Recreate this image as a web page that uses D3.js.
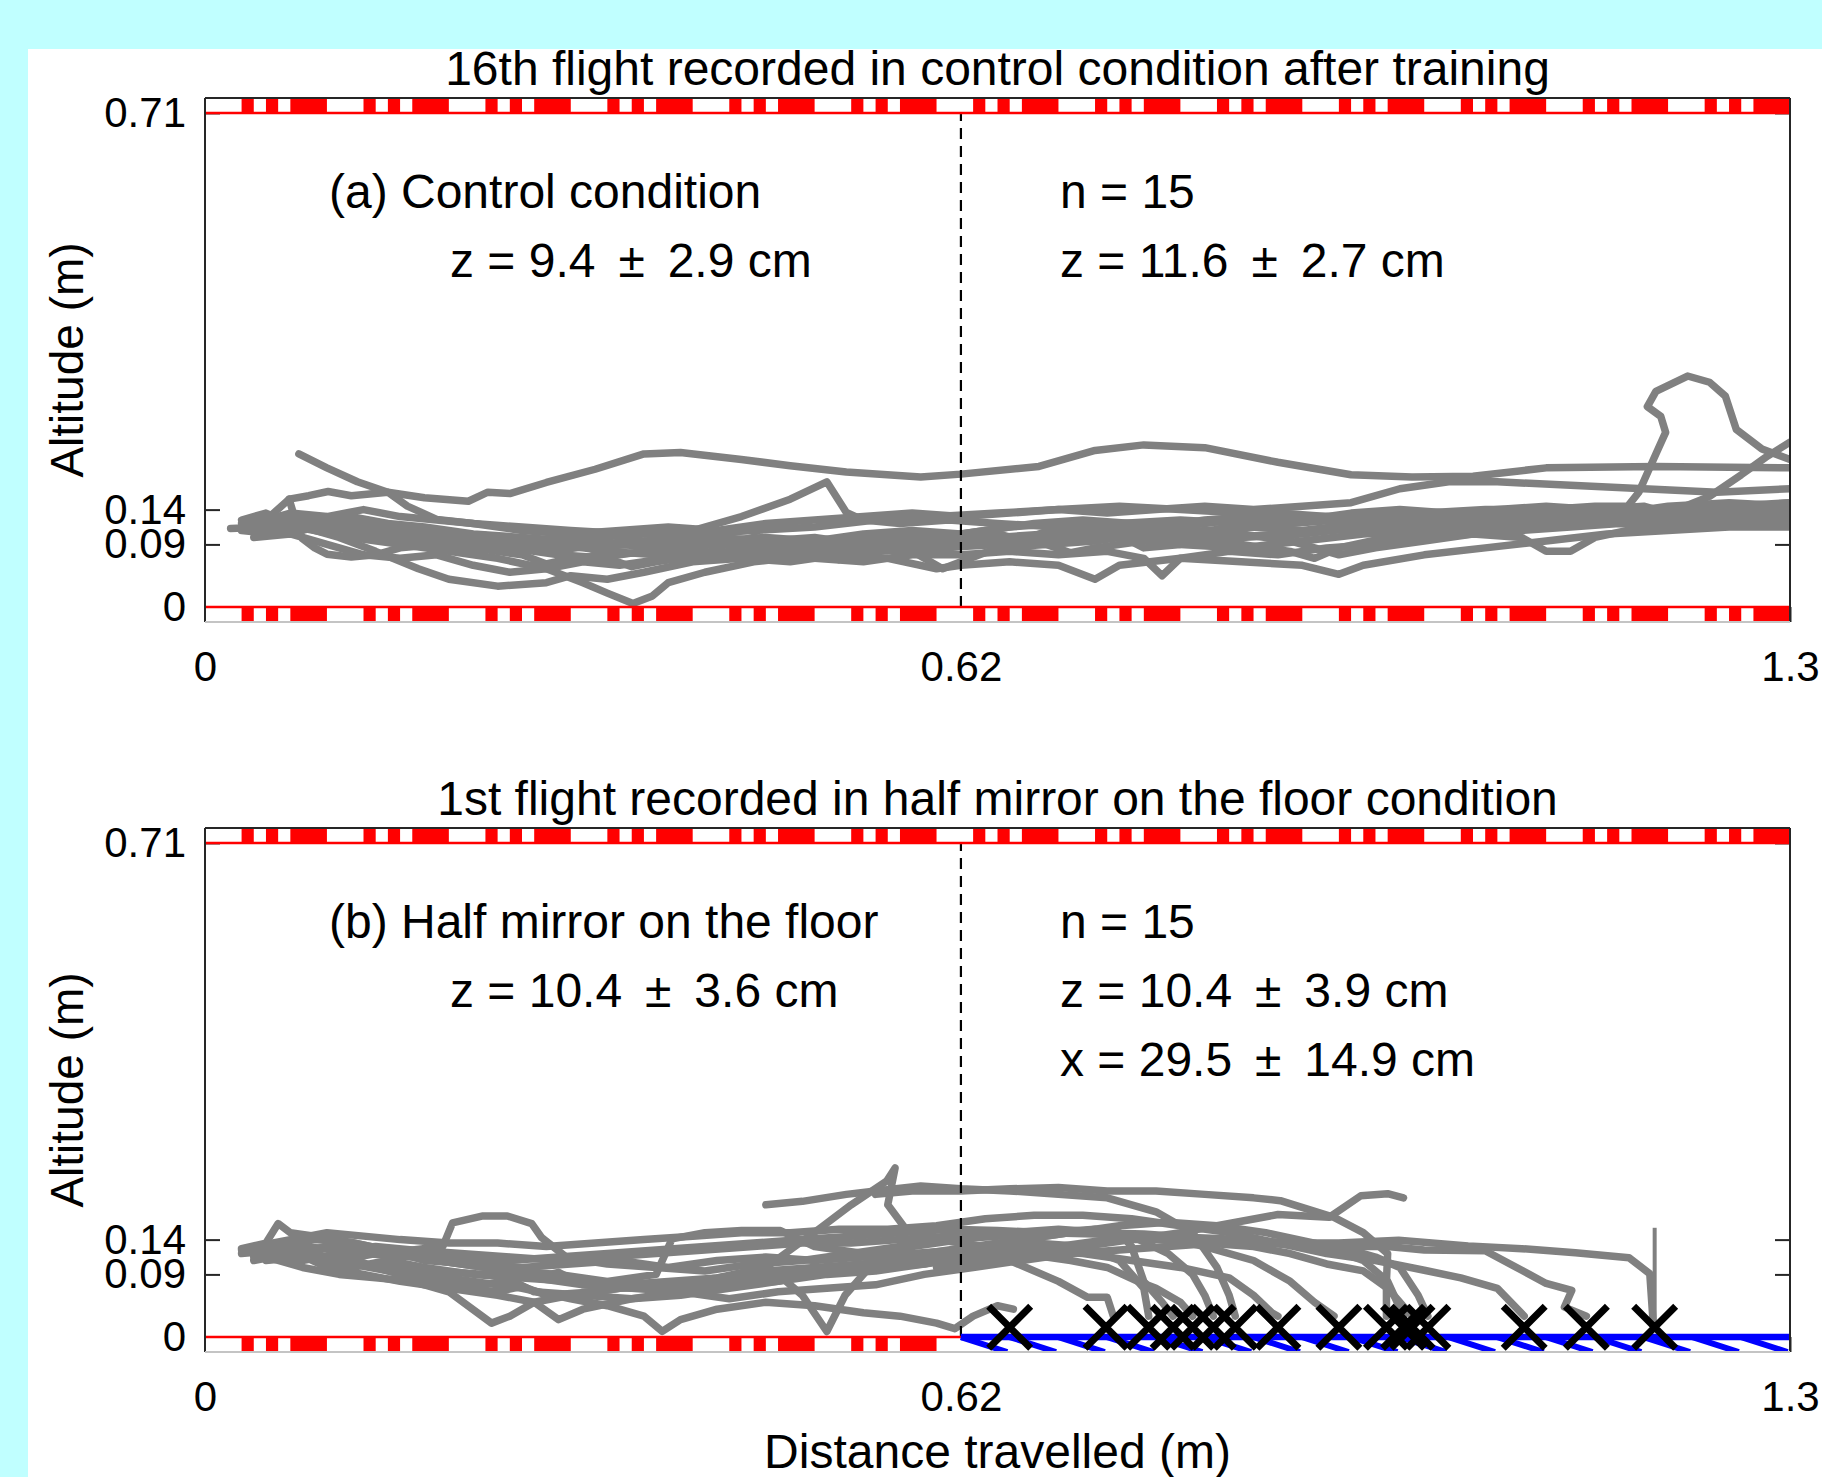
<!DOCTYPE html>
<html>
<head>
<meta charset="utf-8">
<script src="https://cdn.jsdelivr.net/npm/d3@7"></script>
<style>
  body { margin: 0; background: #c0ffff; }
  svg { display: block; }
  text { font-family: "Liberation Sans", Arial, Helvetica, sans-serif; fill: #000; }
</style>
</head>
<body>
<svg id="chart" width="1822" height="1477"></svg>
<script>
// ---- data (distances and altitudes in cm, pairs x,z) ----
const xTicks = [0, 0.62, 1.3];
const xTickLabels = ["0", "0.62", "1.3"];
const yTicks = [0, 0.09, 0.14, 0.71];
const yTickLabels = ["0", "0.09", "0.14", "0.71"];

const titles = [
  "16th flight recorded in control condition after training",
  "1st flight recorded in half mirror on the floor condition"
];
const leftNotes = [
  ["(a) Control condition", "z = 9.4 \u2009\u00b1\u2009 2.9 cm"],
  ["(b) Half mirror on the floor", "z = 10.4 \u2009\u00b1\u2009 3.6 cm"]
];
const rightNotes = [
  ["n = 15", "z = 11.6 \u2009\u00b1\u2009 2.7 cm"],
  ["n = 15", "z = 10.4 \u2009\u00b1\u2009 3.9 cm", "x = 29.5 \u2009\u00b1\u2009 14.9 cm"]
];

const controlFlights = [
  [7.7,22, 10,20, 12.5,18, 15,16.5, 18,15.7, 21.6,15.2, 23.2,16.5, 25,16.3, 28,17.9, 32,19.8, 36,22, 39,22.2, 44,21.2, 48,20.3, 52.6,19.4, 58.7,18.7, 62,19.1, 68.4,20.2, 73,22.5, 77,23.3, 82,22.9, 88,20.8, 94,19, 99,18.7, 104,18.8, 110,20, 119,20.2, 125,20.1, 130,20],
  [5,11.5, 8,12.5, 12,11, 16,10, 20,9.5, 25,9, 27,9.8, 30,8.5, 35,9, 40,9.5, 42,8.6, 45,10, 50,9, 55,9.5, 60,10, 65,10.5, 67,9.6, 70,11.5, 75,12, 80,12.5, 85,12, 90,13, 95,13, 100,13.5, 105,14, 110,14, 114,14.5, 116.7,14.5, 117.6,16.5, 119,22, 119.8,25.1, 119.4,27.4, 118.3,28.8, 119,31, 121.6,33.2, 123.4,32.3, 124.7,30.3, 125.6,25.5, 127.7,22.7, 130,21.2],
  [3,12, 6,13, 10,12.5, 14,11, 18,10, 22,9, 26,9.5, 30,10, 34,9, 38,8.5, 42,9.5, 46,10, 50,9.5, 54,10.5, 58,11, 62,10.5, 66,11.5, 70,12, 74,11, 78,11.5, 82,12.5, 86,13, 90,12.5, 94,13.5, 98,14, 102,13.5, 106,14, 110,14.5, 114,14, 118,14.5, 120,13.5, 123.4,15.9, 126,19, 128,21.5, 130,23.7],
  [2.1,11.3, 5,11.5, 8,12, 12,11.5, 16,10.5, 20,10, 24,9.5, 28,9.5, 32,10, 36,10.5, 40,11, 44,13, 48,15.5, 51,18, 52.6,13.6, 54,12.5, 57,12, 61,12.5, 65,12, 70,11.5, 75,11, 80,10.5, 85,10, 90,10.5, 95,11.5, 100,12, 105,12.5, 110,12, 115,12, 120,12.5, 125,13, 130,13],
  [3,11.5, 6,12, 9,11, 12,10, 16,9, 20,8, 24,7, 28,5.5, 31,3.5, 33,2, 35.1,0.5, 36.7,1.6, 38,3.5, 41,5, 45,6.5, 50,7.5, 55,8, 60,8.5, 65,9, 70,9.5, 75,10, 80,9, 85,8.5, 90,9.5, 95,10.5, 100,11, 105,11.5, 110,12, 115,12.5, 120,12, 125,12.5, 130,13],
  [6.9,15.5, 7.5,12, 8,9.8, 9,8.5, 10,7.6, 12,7.2, 14,7.5, 16,8.5, 19,9, 22,8.5, 26,7.5, 28,6.2, 30,7, 34,7.5, 38,8.5, 42,9, 46,8.5, 50,8, 52,6.8, 54,8.5, 58,9, 62,9.5, 66,9, 70,10, 74,10.5, 78,10, 82,11, 86,11.5, 90,11, 95,12, 100,12.5, 105,12, 110,13, 115,13.5, 120,13, 125,13.5, 130,14],
  [5,12.5, 6.9,15.5, 8.5,16, 10.1,16.6, 12,16, 15,16.5, 16.6,14.5, 19,12.6, 22,12, 26,11.5, 30,11, 35,10.5, 40,10.5, 45,11, 50,11.5, 55,12.5, 60,13, 65,13.5, 70,14, 75,14.5, 80,14, 85,13.5, 90,13, 95,12.5, 100,13, 105,13.5, 110,13, 115,13.5, 120,14, 125,14.5, 130,15],
  [4,11, 8,11.5, 11,10, 14,8, 17.5,5.5, 20,4, 24,3, 28,3.5, 30,4.5, 33,4, 36,5, 40,6.5, 44,7, 48,6.5, 52,7.5, 56,7, 60,5.5, 62,6, 66,6.5, 70,6, 73,4, 75,6, 80,7, 85,6.5, 90,6, 93,4.7, 95,6, 100,7.5, 105,8.5, 110,9.5, 115,10.5, 120,11, 125,11.5, 130,11.5],
  [3,12.5, 5,13.5, 7,12, 10,12.5, 13,11, 15,11.8, 17,10, 21,9.5, 23,10.3, 25,9, 29,8, 31,8.8, 33,7.5, 37,8, 39,6.8, 41,7.5, 45,8.5, 47,7.8, 49,9, 53,8, 57,8.5, 59,7.5, 61,9, 65,10, 69,10.5, 73,9.5, 75,10.3, 77,8.5, 80,9, 84,10, 88,10.5, 92,11, 96,11.5, 100,12, 104,11, 108,11.5, 112,12.5, 116,13, 120,12.5, 125,13.5, 130,13.5],
  [5,10.5, 8,11, 11,12.5, 14,12, 17,11, 20,10.5, 24,10, 28,9, 32,8.5, 34,9.4, 36,9.5, 40,10, 44,9, 48,8.5, 52,9.5, 56,10.5, 60,10, 64,11, 68,12, 72,12.5, 76,12, 80,11.5, 84,12.5, 88,13.5, 92,13, 96,12, 100,11.5, 104,12.5, 108,13.5, 112,14, 116,13.5, 120,14.5, 125,15, 130,14.5],
  [4,10, 7,10.5, 10,9, 13,7.5, 16,7, 19,7.5, 22,6, 25,5, 28,5.5, 31,6.5, 34,6, 38,7, 42,7.5, 46,8, 50,7, 54,6.5, 58,7.5, 62,7.5, 66,8, 70,7.5, 74,8, 77,7, 78.5,4.5, 80,7, 84,8, 88,7.5, 92,8.5, 96,9, 100,10, 104,10.5, 108,10, 110,8, 112,8, 114,10, 118,11.5, 122,12, 126,12.5, 130,12.5],
  [6,13, 9,12, 12,13, 15,12, 18,11.5, 22,10.5, 26,10, 30,9.5, 34,9, 38,9.5, 42,10, 46,9.5, 50,10, 54,9, 58,8, 60.5,5.5, 62,6.5, 65,8.5, 69,9, 73,9.5, 77,10.5, 81,11, 85,10.5, 89,9.5, 93,7.5, 96,8.5, 100,9.5, 104,10.5, 108,11, 112,11.5, 116,12, 120,11.5, 125,12, 130,12],
  [3,11, 6,10.5, 9,12, 12,11, 15,9.5, 18,9, 21,8, 25,8.5, 29,7.5, 33,7, 35,5.8, 37,6.5, 41,7.5, 45,8, 49,8.5, 53,9, 57,9.5, 61,9, 65,9.5, 69,10.5, 73,11, 77,11.5, 81,12, 85,12.5, 89,12, 93,12.5, 97,13, 101,13.5, 105,13, 109,13.5, 113,14, 117,13.5, 121,14, 125,14, 130,15],
  [4,12, 7,13.5, 10,13, 13,14, 16,13, 19,12.5, 22,12, 26,11, 30,10.5, 34,11, 38,11.5, 42,11, 46,12, 50,12.5, 54,13, 58,13.5, 62,13, 66,13.5, 70,14, 74,13.5, 78,14, 82,14.5, 86,14, 90,14.5, 94,15, 98,17, 102,18, 106,18, 112,17.5, 118,17, 124,16.5, 130,17],
  [5,11, 8,12, 11,11.5, 14,10.5, 17,9.5, 21,9, 25,8.5, 29,9, 33,8, 37,7.5, 41,8, 45,7, 49,7.5, 53,8.5, 57,8, 61,8.5, 65,9.5, 69,9, 71,7.8, 73,8.5, 77,9.5, 81,10, 85,9, 89,8, 91,7, 93,8.5, 97,10, 101,11, 105,11.5, 109,12, 113,12.5, 117,12, 121,12.5, 125,13, 130,13.5]
];

const mirrorFlights = [
  [4,12, 7,13, 10,11.5, 14,10, 18,9, 22,8, 26,7, 30,5.5, 33,4.5, 36,3, 37.5,0.8, 39,2.5, 42,4, 46,5, 50,4.5, 54,3.5, 57,3, 60,2, 61.5,1.2, 63,3, 65,4.5, 66.3,4],
  [3,12.7, 5,13.5, 6,16.3, 7,15, 9,14.5, 12,13.6, 15,12.5, 18,11, 22,10.5, 26,10, 30,10.5, 34,11, 38,10, 42,11, 46,11.5, 50,11, 54,11.5, 58,12, 62,12.5, 66,11, 70,8, 72.4,5.7, 74,5.7, 74.5,3],
  [5,12, 8,11, 11,12, 14,10, 17,8.5, 20,7, 24,6.5, 26,7.3, 28,6, 32,6.5, 36,7.5, 40,7, 44,8, 48,9, 52,10, 56,11, 60,12, 64,12.5, 68,13.5, 72,13, 75,11, 77,7, 77.4,3],
  [4,11.5, 7,12.5, 10,10, 13,9, 16,8, 20,7, 24,6, 27,5, 29,2.5, 31,4, 35,5.5, 39,6, 43,7, 47,8, 51,9, 55,9.5, 59,10.5, 63,12, 67,14, 71,15, 75,15, 76,13, 77,8, 78.5,5, 79.4,3],
  [6,13, 9,14, 12,13.6, 15,12.5, 19,11, 23,10, 27,8.5, 29,9.3, 31,7.5, 35,7, 39,6.5, 43,7.5, 47,8, 51,9.5, 55,10, 59,10.5, 63,11.5, 67,12, 71,11, 74,10, 76.5,8, 78,7, 80,5, 81,3],
  [5,11, 8,11.5, 11,11, 14,12, 17,12.5, 19.5,13, 20.3,16.4, 22.8,17.4, 24.8,17.4, 26.8,16.3, 27.6,14.3, 29.7,11.4, 33,10.5, 37,10, 41,9.5, 45,10.5, 49,11, 53,12, 57,13, 61,14, 65,14.5, 69,15, 73,15.5, 76,14.5, 79,12, 81,9, 82,6, 82.7,3],
  [46,19, 49,19.5, 52.6,20.5, 55,21, 58.7,21.7, 62,21.3, 66,21, 70,20.5, 74,20, 78,18, 81,15, 83,10, 84,6, 84.5,3],
  [3,12, 6,12.5, 9,11, 12,10, 15,11, 18,10, 22,9, 26,8.5, 30,8, 34,7.5, 38,8, 42,8.5, 46,10, 50.5,15.7, 53,19, 55.9,22.4, 56.6,24.3, 56,19, 57.4,15.7, 60,14, 64,13, 68,12.5, 72,12, 76,11, 80,10, 84,8.5, 86,6, 87.5,3.5, 88,3],
  [4,12.5, 7,12, 10,13, 13,12, 17,11.5, 21,10.5, 25,9.5, 29,9, 33,8, 37,9, 38.3,14.1, 41,15, 44,15.3, 47.2,15.3, 50,13, 54,12, 58,13, 62,14, 66,15, 70,15.5, 74,15, 78,14.5, 82,13, 86,11, 89,8, 91,5, 92.6,3],
  [55,20.5, 58,21, 62,21, 66,21.3, 70,21.5, 74,21, 78,21, 82,20.5, 86,20, 88.2,19.6, 92.6,17.2, 95,15, 97,12, 96.9,8, 96.9,3],
  [3,12.5, 5,13, 8,12, 11,11, 15,10, 19,9.5, 23,9, 27,8.5, 31,7.5, 35,7, 39,7.5, 43,8, 47,9, 49,6, 51,0.8, 52.5,6, 55,11, 59,12, 63,13, 67,14, 71,15, 75,16, 79,16.5, 83,16, 87,15, 91,13.5, 95,11, 97,8, 98.3,3],
  [5,11.5, 8,10, 11,9, 14,8.5, 17,8, 20,6.5, 23.5,2, 25,3, 27,5, 30,6, 34,7, 38,7.5, 42,8.5, 46,9.5, 50,10, 54,10.5, 58,11, 62,12, 66,12.5, 70,13, 74,14, 78,14, 82,13.5, 86,13, 89,12, 92,10.5, 95,9.5, 97,7, 99,3],
  [6,12, 9,11.5, 12,10.5, 15,9.5, 19,8, 23,7.5, 25,8.3, 27,6.5, 31,6, 35,5.5, 39,6.5, 43,5.5, 47,6.5, 51,7, 55,7.5, 59,9, 63,10, 67,11, 71,12, 75,12.5, 79,13, 83,13.5, 87,13.5, 91,13, 94,12.5, 96,11.5, 98,10, 99.5,6, 100.3,3],
  [4,13, 7,14, 10,15, 13,14.5, 16,14, 20,13.5, 24,13.5, 28,13, 32,13.5, 36,14, 40,14.5, 44,15, 48,15, 52,15.5, 56,15.5, 60,16, 64,17, 68,17.5, 72,17.5, 76,17, 80,16, 84,15, 88,13.5, 92,12, 96,11, 100,9.6, 103,8.5, 106,7, 108.2,3],
  [5,12, 8,13, 11,12.5, 14,13, 17,12.5, 21,12, 25,11.5, 29,11, 33,11.5, 37,12, 41,12.5, 45,13, 49,13.5, 53,13.5, 57,14, 61,14.5, 65,15, 69,15, 73,15, 77,14.8, 81,14.3, 85,14, 89,13.5, 93,13, 97,13, 100,12.5, 105,12.4, 108,9.6, 110,7.7, 112.1,6.7, 111.5,4.3, 113.3,3],
  [4,11, 7,12, 10,13, 13,12.5, 17,12, 21,11.5, 25,11, 29,11.5, 33,12, 37,12.5, 41,13, 45,13.5, 49,14, 53,14.5, 57,15, 61,15.5, 65,15.3, 69,15, 73,14.8, 77,14.5, 81,14, 85,13.8, 89,13.5, 93,13.5, 97.9,13.9, 103.6,13.1, 108,12.7, 112.4,12.1, 116.8,11.4, 118.5,9.1, 118.8,1.4],
  [60,10, 64,11, 68,12, 72,13, 76,14, 80,15, 83,16, 88,17.6, 92.2,17.2, 94.8,20.3, 97,20.6, 98.3,20]
];

// thin vertical trace at the last landing point
const spikeTrace = [118.9,1.4, 118.9,15.7];

// landing positions (m) on the mirror floor
const landingX = [0.660, 0.739, 0.774, 0.794, 0.810, 0.827, 0.845, 0.880, 0.930, 0.969, 0.983, 0.990, 1.003, 1.082, 1.133, 1.189];
const landingZ = 0.014;

// wall / floor texture: red pieces inside every 0.1 m
const stripeRed = [[0.03, 0.04], [0.05, 0.06], [0.07, 0.10]];
const mirrorStart = 0.62;

// ---- layout ----
const W = 1822, H = 1477;
const boxH = 524;
const panelTops = [98, 828];
const gray = "#808080", axisColor = "#262626";

const svg = d3.select("#chart");
svg.append("rect").attr("width", W).attr("height", H).attr("fill", "#c0ffff");
svg.append("rect").attr("x", 28).attr("y", 49).attr("width", W - 28).attr("height", H - 49).attr("fill", "#fff");

const x = d3.scaleLinear().domain([0, 1.3]).range([205, 1790]);
const toPts = arr => d3.range(0, arr.length, 2).map(i => [arr[i] / 100, arr[i + 1] / 100]);

panelTops.forEach((top, k) => {
  const bottom = top + boxH;
  const y = d3.scaleLinear().domain([-0.0215, 0.7315]).range([bottom, top]);
  const g = svg.append("g");
  const clipId = "clip" + k;

  svg.append("clipPath").attr("id", clipId)
    .append("rect").attr("x", x(0)).attr("y", top)
    .attr("width", x(1.3) - x(0)).attr("height", boxH);

  // ticks (inward) and labels
  const styleAxis = sel => {
    sel.attr("font-size", 42).attr("font-family", null);
    sel.select(".domain").remove();
    sel.selectAll(".tick line").attr("stroke", axisColor).attr("stroke-width", 2);
    sel.selectAll(".tick text").attr("fill", "#000");
  };
  g.append("g").attr("transform", `translate(${x(0)},0)`)
    .call(d3.axisLeft(y).tickValues(yTicks).tickFormat((d, i) => yTickLabels[i])
      .tickSizeInner(-15).tickSizeOuter(0).tickPadding(19))
    .call(styleAxis);
  g.append("g").attr("transform", `translate(${x(1.3)},0)`)
    .call(d3.axisRight(y).tickValues(yTicks).tickFormat("")
      .tickSizeInner(-15).tickSizeOuter(0))
    .call(styleAxis);
  g.append("g").attr("transform", `translate(0,${bottom})`)
    .call(d3.axisBottom(x).tickValues(xTicks).tickFormat((d, i) => xTickLabels[i])
      .tickSizeInner(-15).tickSizeOuter(0).tickPadding(29))
    .call(styleAxis);

  // flight tracks
  const line = d3.line().x(d => x(d[0])).y(d => y(d[1]));
  const flights = k === 0 ? controlFlights : mirrorFlights;
  const tracks = g.append("g").attr("clip-path", `url(#${clipId})`);
  tracks.selectAll("path.track")
    .data(flights)
    .join("path")
      .attr("class", "track")
      .attr("d", d => line(toPts(d)))
      .attr("fill", "none")
      .attr("stroke", gray)
      .attr("stroke-width", 7.5)
      .attr("stroke-linejoin", "round")
      .attr("stroke-linecap", "round");
  if (k === 1) {
    tracks.append("path")
      .attr("d", line(toPts(spikeTrace)))
      .attr("fill", "none").attr("stroke", gray).attr("stroke-width", 4);
  }

  // dashed line at the middle of the tunnel
  g.append("line")
    .attr("x1", x(mirrorStart)).attr("x2", x(mirrorStart))
    .attr("y1", y(0)).attr("y2", y(0.71))
    .attr("stroke", "#000").attr("stroke-width", 2.2)
    .attr("stroke-dasharray", "11,7");

  // ceiling and floor texture
  const cells = d3.range(0, 13).map(i => i / 10);
  const drawStripe = (z0, z1, xEnd) => {
    g.append("rect")
      .attr("x", x(0)).attr("y", y(z1))
      .attr("width", x(1.3) - x(0)).attr("height", y(z0) - y(z1))
      .attr("fill", "#fff");
    const pieces = [];
    cells.forEach(c => stripeRed.forEach(s => {
      if (c + s[1] <= xEnd + 1e-9) pieces.push([c + s[0], c + s[1]]);
    }));
    g.append("g").selectAll("rect")
      .data(pieces)
      .join("rect")
        .attr("x", d => x(d[0]))
        .attr("width", d => x(d[1]) - x(d[0]))
        .attr("y", y(z1))
        .attr("height", y(z0) - y(z1))
        .attr("fill", "#ff0000");
  };
  drawStripe(0.71, 0.7315, 1.3);
  drawStripe(-0.0215, 0, k === 0 ? 1.3 : mirrorStart);

  g.append("line").attr("x1", x(0)).attr("x2", x(1.3))
    .attr("y1", y(0.71)).attr("y2", y(0.71))
    .attr("stroke", "#ff0000").attr("stroke-width", 2.5);
  g.append("line").attr("x1", x(0)).attr("x2", x(k === 0 ? 1.3 : mirrorStart))
    .attr("y1", y(0)).attr("y2", y(0))
    .attr("stroke", "#ff0000").attr("stroke-width", 2.5);

  if (k === 1) {
    // half mirror: blue floor with hatching
    const hatch = d3.range(0, 17).map(i => mirrorStart + i * 0.04);
    g.append("g").attr("clip-path", `url(#${clipId})`)
      .selectAll("line")
      .data(hatch)
      .join("line")
        .attr("x1", d => x(d)).attr("y1", y(0))
        .attr("x2", d => x(d + 0.038)).attr("y2", y(-0.0215))
        .attr("stroke", "#0000ff").attr("stroke-width", 6);
    g.append("line")
      .attr("x1", x(mirrorStart)).attr("x2", x(1.3))
      .attr("y1", y(0)).attr("y2", y(0))
      .attr("stroke", "#0000ff").attr("stroke-width", 6.5);
  }

  // axes box
  g.append("line").attr("x1", x(0)).attr("x2", x(0)).attr("y1", top).attr("y2", bottom)
    .attr("stroke", axisColor).attr("stroke-width", 2);
  g.append("line").attr("x1", x(1.3)).attr("x2", x(1.3)).attr("y1", top).attr("y2", bottom)
    .attr("stroke", axisColor).attr("stroke-width", 2);
  g.append("line").attr("x1", x(0)).attr("x2", x(1.3)).attr("y1", top).attr("y2", top)
    .attr("stroke", axisColor).attr("stroke-width", 2);
  g.append("line").attr("x1", x(0)).attr("x2", x(1.3)).attr("y1", bottom).attr("y2", bottom)
    .attr("stroke", "#c4c4c4").attr("stroke-width", 2);

  if (k === 1) {
    const s = 21;
    g.append("g").selectAll("path")
      .data(landingX)
      .join("path")
        .attr("transform", d => `translate(${x(d)},${y(landingZ)})`)
        .attr("d", `M${-s},${-s}L${s},${s}M${-s},${s}L${s},${-s}`)
        .attr("stroke", "#000").attr("stroke-width", 7).attr("fill", "none");
  }

  // title, y label, notes
  g.append("text")
    .attr("x", (x(0) + x(1.3)) / 2).attr("y", top - 13)
    .attr("text-anchor", "middle").attr("font-size", 48)
    .text(titles[k]);
  g.append("text")
    .attr("transform", `translate(67,${(top + bottom) / 2}) rotate(-90)`)
    .attr("text-anchor", "middle").attr("dy", "0.35em").attr("font-size", 46)
    .text("Altitude (m)");

  leftNotes[k].forEach((t, i) => {
    g.append("text")
      .attr("x", i === 0 ? 329 : 450).attr("y", top + 110 + i * 69)
      .attr("font-size", 48).text(t);
  });
  rightNotes[k].forEach((t, i) => {
    g.append("text")
      .attr("x", 1060).attr("y", top + 110 + i * 69)
      .attr("font-size", 48).text(t);
  });
});

svg.append("text")
  .attr("x", (x(0) + x(1.3)) / 2).attr("y", 1468)
  .attr("text-anchor", "middle").attr("font-size", 48)
  .text("Distance travelled (m)");
</script>
</body>
</html>
